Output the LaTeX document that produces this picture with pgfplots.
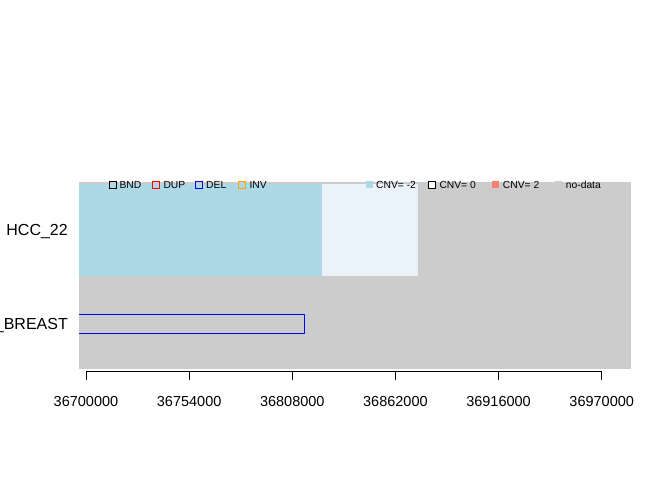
\documentclass[border=0pt]{standalone}
\usepackage{pgfplots}
\pgfplotsset{compat=1.18}
\usepackage{fontspec}
\setmainfont{Liberation Sans}
\definecolor{nodata}{RGB}{204,204,204}
\definecolor{cnvneg}{RGB}{173,216,230}
\definecolor{cnvlight}{RGB}{235,243,250}
\definecolor{cnvpos}{RGB}{250,128,114}
\definecolor{invcol}{RGB}{255,165,0}
\begin{document}
\begin{tikzpicture}[x=1pt,y=1pt]
\path[use as bounding box] (0,0) rectangle (672,480);
% main panel
\begin{axis}[
  at={(79pt,111pt)}, anchor=south west,
  scale only axis, width=552pt, height=187pt,
  xmin=36696335, xmax=36985602, ymin=0, ymax=2,
  axis background/.style={fill=nodata},
  axis line style={draw=none},
  major tick style={draw=none},
  xtick=\empty,
  ytick={0.5,1.5},
  yticklabels={\_BREAST, HCC\_22},
  yticklabel style={font=\fontsize{16}{18}\selectfont, anchor=east, inner sep=0pt, xshift=-11pt, yshift=-3pt},
  clip=true,
]
% HCC_22 row: CNV segments
\addplot[fill=cnvneg, draw=none] coordinates {(36680000,0.995) (36823560,0.995) (36823560,1.98) (36680000,1.98)} -- cycle;
\addplot[fill=cnvlight, draw=none] coordinates {(36823560,0.995) (36873822,0.995) (36873822,1.98) (36823560,1.98)} -- cycle;
% BREAST row: deletion
\addplot[draw=blue, fill=none, line width=0.8pt] coordinates {(36680000,0.38) (36814293,0.38) (36814293,0.585) (36680000,0.585)} -- cycle;
\end{axis}
% x axis (R style, spanning first to last tick)
\begin{axis}[
  at={(86pt,109pt)}, anchor=south west,
  scale only axis, width=515.7pt, height=1pt,
  xmin=36700000, xmax=36970000, ymin=0, ymax=1,
  axis x line*=bottom, axis y line=none,
  scaled x ticks=false,
  xtick={36700000,36754000,36808000,36862000,36916000,36970000},
  xticklabels={36700000,36754000,36808000,36862000,36916000,36970000},
  tick align=outside, major tick length=9pt,
  every tick/.style={black, line width=0.8pt},
  axis line style={black, line width=0.8pt},
  xticklabel style={font=\fontsize{14.5}{16}\selectfont, anchor=center, yshift=-21.5pt},
]
\end{axis}
% legend
\begin{scope}[every node/.style={font=\fontsize{10.3}{12}\selectfont, anchor=west, inner sep=0pt}]
\draw[black, line width=0.6pt] (109.5,291.5) rectangle (116.5,298.5); \node at (119.3,295) {BND};
\draw[red, line width=0.6pt] (152.5,291.5) rectangle (159.5,298.5); \node at (163.3,295) {DUP};
\draw[blue, line width=0.6pt] (195.3,291.5) rectangle (202.3,298.5); \node at (206,295) {DEL};
\draw[invcol, line width=0.6pt] (238.5,291.5) rectangle (245.5,298.5); \node at (249.3,295) {INV};
\fill[cnvneg] (365.5,291.5) rectangle (372.5,298.5); \node at (376,295) {CNV= -2};
\draw[black, fill=white, line width=0.6pt] (428.5,291.5) rectangle (435.5,298.5); \node at (439.3,295) {CNV= 0};
\fill[cnvpos] (491.8,291.5) rectangle (498.8,298.5); \node at (502.7,295) {CNV= 2};
\fill[nodata] (555.3,291.5) rectangle (562.3,298.5); \node at (565.7,295) {no-data};
\end{scope}
\end{tikzpicture}
\end{document}
